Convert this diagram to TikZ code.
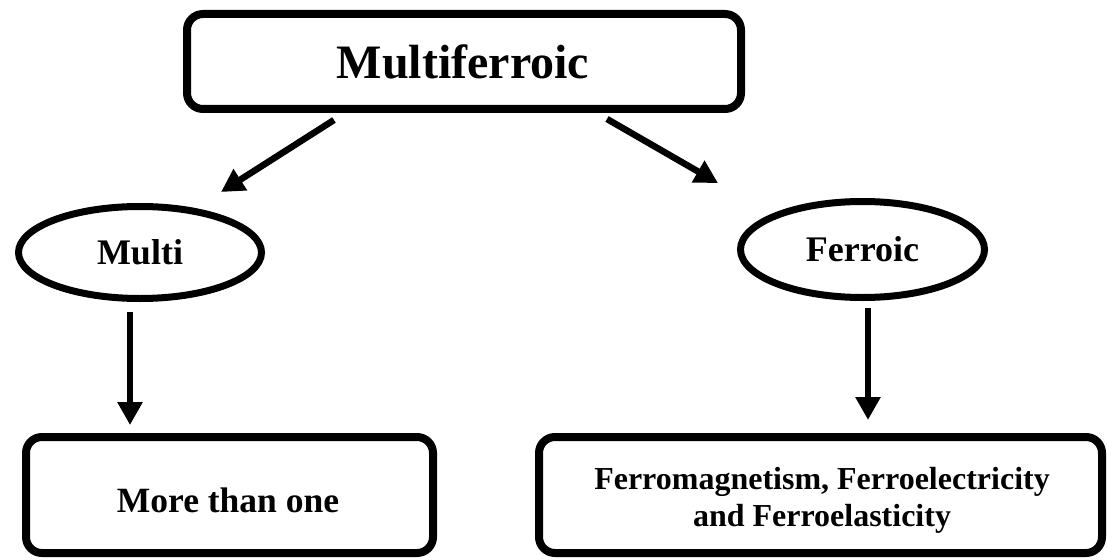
\documentclass[tikz,border=0pt]{standalone}
\usepackage{fontspec}
\setmainfont{Liberation Serif}
\usetikzlibrary{arrows.meta,shapes.geometric}
\tikzset{
  boxstyle/.style={draw=black, line width=8pt, rounded corners=16pt, inner sep=0pt},
  ellstyle/.style={draw=black, line width=7pt, ellipse, inner sep=0pt},
  arr/.style={line width=6.5pt, -{Triangle[length=23pt,width=24pt]}},
}
\begin{document}
\begin{tikzpicture}[x=1pt,y=-1pt]
\useasboundingbox (0,0) rectangle (1107,559);
% boxes
\node[boxstyle, minimum width=554pt, minimum height=95pt] (top) at (464,61.5) {};
\node[font=\fontsize{48}{58}\selectfont\bfseries] (toptext) at (463,61.5) {Multiferroic};
\node[ellstyle, minimum width=243pt, minimum height=92pt, font=\fontsize{36}{42}\selectfont\bfseries] (multi) at (140,252.5) {Multi};
\node[ellstyle, minimum width=244pt, minimum height=96pt, font=\fontsize{36}{42}\selectfont\bfseries] (ferroic) at (862.5,249.5) {Ferroic};
\node[boxstyle, minimum width=407pt, minimum height=116pt] (more) at (229.5,495) {};
\node[font=\fontsize{35.5}{40}\selectfont\bfseries] (moretext) at (228,500) {More than one};
\node[boxstyle, minimum width=563pt, minimum height=116pt] (ferro) at (820.5,495) {};
\node[align=center, font=\fontsize{32}{37}\selectfont\bfseries] (ferrotext) at (822,500) {Ferromagnetism, Ferroelectricity\\ and Ferroelasticity};
% connector endpoints
\coordinate (ls) at (334,120);
\coordinate (le) at (221,192);
\coordinate (rs) at (607,119);
\coordinate (re) at (718,183);
\coordinate (ms) at (130,312);
\coordinate (me) at (130,425);
\coordinate (fs) at (868,308);
\coordinate (fe) at (868,420);
\draw[arr] (ls) -- (le);
\draw[arr] (rs) -- (re);
\draw[arr] (ms) -- (me);
\draw[arr] (fs) -- (fe);
\end{tikzpicture}
\end{document}
